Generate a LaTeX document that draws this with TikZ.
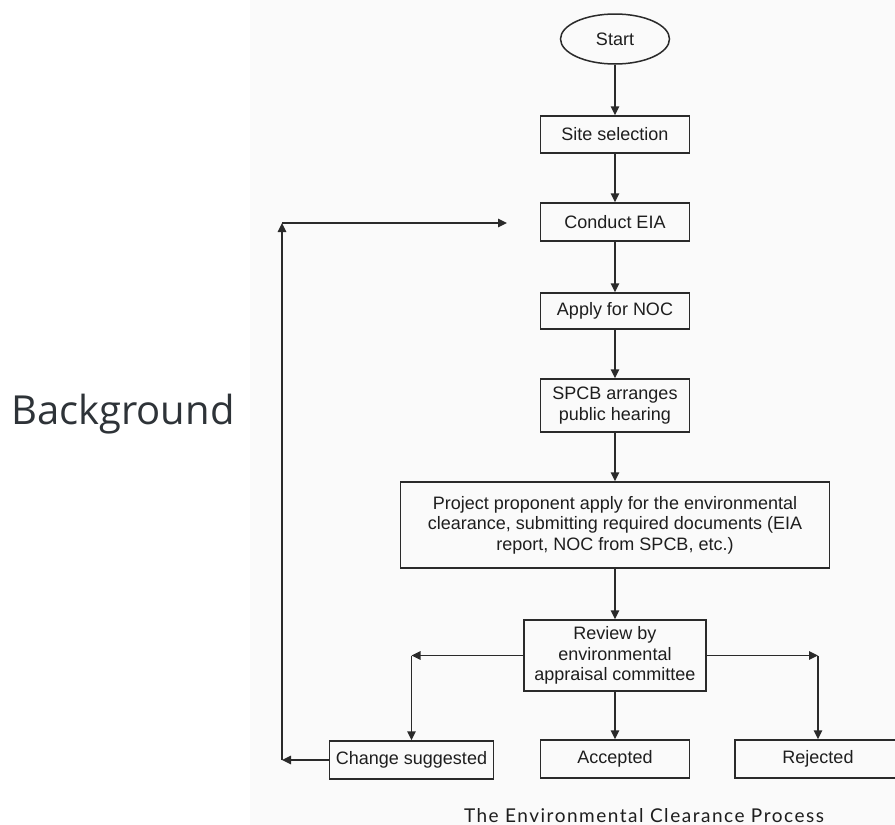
\documentclass[tikz,border=0pt]{standalone}
\usepackage{fontspec}
\setmainfont{Liberation Sans}
\newfontfamily\sidefont{Open Sans}
\newfontfamily\captionfont[LetterSpace=8]{Lato}
\usepackage{tikz}
\usetikzlibrary{
  arrows.meta,
  positioning,
  shapes.geometric,
}
\definecolor{inkLine}{HTML}{2A2A2A}
\definecolor{inkText}{HTML}{1E1E1E}
\definecolor{scanBg}{HTML}{FAFAFA}
\definecolor{sideText}{HTML}{2E3338}

\tikzset{
  stepbox/.style={draw=inkLine, line width=1.5pt, rectangle, inner sep=0pt,
    align=center, text=inkText, font=\fontsize{18}{20.5}\selectfont},
  startnode/.style={stepbox, ellipse},
  flow/.style={draw=inkLine, line width=1.5pt,
    -{Triangle[length=9pt,width=8.5pt]}},
}

\begin{document}
\begin{tikzpicture}[x=1pt,y=-1pt]
\useasboundingbox (0,0) rectangle (895,825);
\fill[scanBg] (250,0) rectangle (895,825);

% main column
\node[startnode, minimum width=109, minimum height=50] (start) at (615,39) {Start};

\foreach \name/\txt/\y/\w/\h in {%
  site/{Site selection}/134.5/149/37,%
  eia/{Conduct EIA}/222/149/38,%
  noc/{Apply for NOC}/311/149/36,%
  spcb/{SPCB arranges\\public hearing}/405.5/149/53,%
  prop/{Project proponent apply for the environmental\\clearance, submitting required documents (EIA\\report, NOC from SPCB, etc.)}/525/429/86,%
  rev/{Review by\\environmental\\appraisal committee}/655.5/182/71%
}
{
  \node[stepbox, minimum width=\w, minimum height=\h] (\name) at (615,\y) {\txt};
}

% outcomes
\node[stepbox, minimum width=164, minimum height=38] (chg) at (411.5,760) {Change suggested};
\node[stepbox, minimum width=149, minimum height=38] (acc) at (615,759) {Accepted};
\node[stepbox, minimum width=166, minimum height=38] (rej) at (818,759) {Rejected};

\foreach \a/\b in {start/site, site/eia, eia/noc, noc/spcb, spcb/prop, prop/rev, rev/acc}
  \draw[flow] (\a) -- (\b);

% branches
\coordinate (lbend) at (rev.west -| chg.north);
\coordinate (rbend) at (rev.east -| rej.north);
\draw[flow] (rev.west) -- (lbend);
\draw[flow] (lbend) -- (chg.north);
\draw[flow] (rev.east) -- (rbend);
\draw[flow] (rbend) -- (rej.north);

% loop back to EIA
\coordinate (loopTop) at (282,223);
\coordinate (loopLow) at (chg.west -| loopTop);
\coordinate (loopEnd) at (507,223);
\draw[flow] (chg.west) -- (loopLow);
\draw[flow] (loopLow) -- (loopTop);
\draw[flow] (loopTop) -- (loopEnd);

% labels
\node[font=\sidefont\fontsize{40}{48}\selectfont, text=sideText, anchor=base west,
      inner sep=0pt] (sideLabel) at (11,424) {Background};
\node[font=\captionfont\fontsize{19}{22}\selectfont, text=inkText, anchor=base,
      inner sep=0pt] (caption) at (644,822) {The Environmental Clearance Process};

\end{tikzpicture}
\end{document}
